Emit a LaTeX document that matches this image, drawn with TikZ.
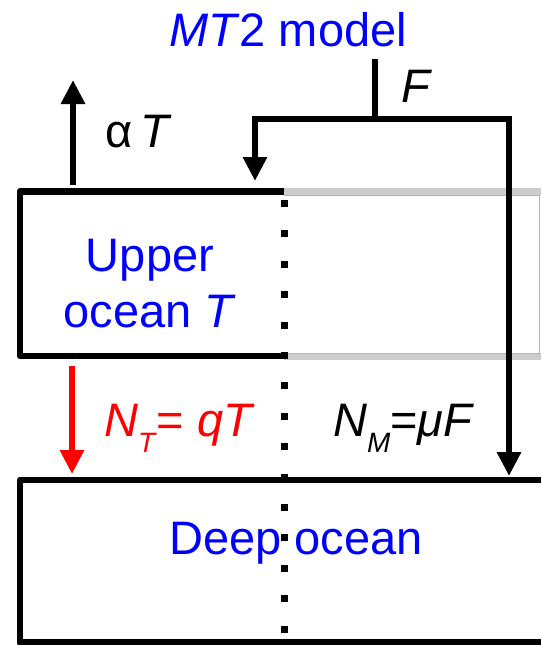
\documentclass[tikz,border=0pt]{standalone}
\usepackage{fontspec}
\setmainfont{Liberation Sans}
\usetikzlibrary{arrows.meta}

\begin{document}
\begin{tikzpicture}
  [x=1pt,y=-1pt,
   thickline/.style={line width=6.8pt},
   flux/.style={line width=6.8pt,line join=miter,-{Triangle[width=23pt,length=24pt]}},
   lbl/.style={inner sep=0pt,anchor=base,font=\fontsize{47}{56}\selectfont}]

  \useasboundingbox (0,0) rectangle (541,645);

  % Titulo
  \node[lbl,text=blue] (title) at (288,46.5) {\textit{MT}2 model};

  % Capa superior (parte gris a la derecha)
  \draw[line width=7pt,gray!40] (284,191.5) -- (541,191.5);
  \draw[line width=7pt,gray!40] (284,356.5) -- (541,356.5);
  \draw[line width=0.8pt,gray!60] (284,195) -- (539,195) -- (539,353) -- (284,353);
  \draw[thickline,line join=round] (284,191.5) -- (20,191.5) -- (20,356) -- (284,356);

  % Capa profunda
  \draw[thickline,line join=round] (541,480) -- (20,480) -- (20,642.5) -- (541,642.5);

  % Forzamiento F
  \coordinate (Ftop) at (375,59);
  \coordinate (Fsplit) at (375,119);
  \coordinate (Fleft) at (255,119);
  \coordinate (Fright) at (509,119);
  \coordinate (Fup) at (255,181);
  \coordinate (Fdeep) at (509,476);
  \draw[thickline] (Ftop) -- (Fsplit);
  \draw[flux] (Fsplit) -- (Fleft) -- (Fup);
  \draw[flux] (Fsplit) -- (Fright) -- (Fdeep);
  \node[lbl] (Flabel) at (417,102) {\textit{F}};

  % Perdida alpha T
  \coordinate (aTbase) at (73,185);
  \coordinate (aTtip) at (73,80);
  \draw[flux] (aTbase) -- (aTtip);
  \node[lbl] (aTlabel) at (139,147) {α\,\textit{T}};

  % Flujo N_T
  \coordinate (NTtop) at (72,365.5);
  \coordinate (NTtip) at (72,474);
  \draw[flux,red] (NTtop) -- (NTtip);
  \node[lbl,anchor=base west,text=red] (NTlabel) at (104,436)
    {\textit{N}\raisebox{-16pt}{\fontsize{28}{28}\selectfont\textit{T}}= \textit{qT}};

  % Flujo N_M
  \node[lbl,anchor=base west] (NMlabel) at (333,436)
    {\textit{N}\raisebox{-16pt}{\fontsize{28}{28}\selectfont\textit{M}}=\textit{μF}};

  % Textos de las capas
  \node[lbl,anchor=center,align=center,text=blue] (upper) at (150,283.5) {Upper\\ocean \textit{T}};
  \node[lbl,text=blue] (deep) at (296,554.5) {Deep ocean};

  % Linea punteada
  \coordinate (dottop) at (284.5,200);
  \coordinate (dotbot) at (284.5,645);
  \draw[line width=7pt,dash pattern=on 7pt off 23.4pt] (dottop) -- (dotbot);

\end{tikzpicture}
\end{document}
